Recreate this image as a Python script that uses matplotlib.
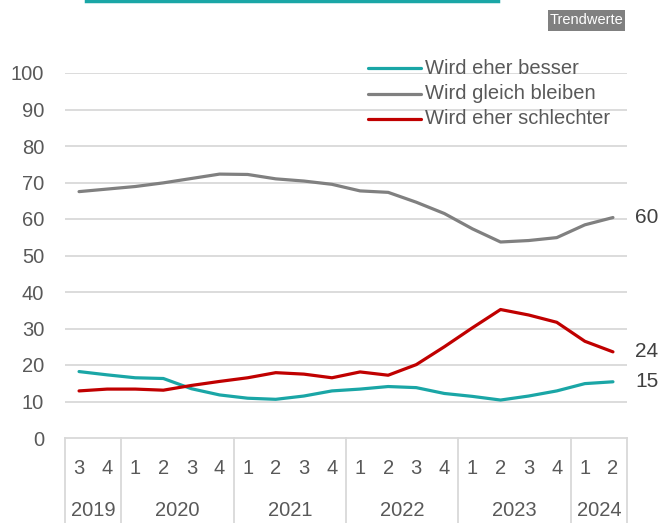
import matplotlib
matplotlib.use("Agg")
import matplotlib.pyplot as plt
from matplotlib import font_manager
from matplotlib.lines import Line2D
from matplotlib.patches import Rectangle

names = {f.name for f in font_manager.fontManager.ttflist}
FAM = ['Liberation Sans Narrow', 'Liberation Sans', 'DejaVu Sans']
FAM = [f for f in FAM if f in names] or ['DejaVu Sans']
plt.rcParams['font.family'] = FAM
NARROW = FAM[0] == 'Liberation Sans Narrow'
FS = 16.5 if NARROW else 14.5

quarters = ['3', '4', '1', '2', '3', '4', '1', '2', '3', '4',
            '1', '2', '3', '4', '1', '2', '3', '4', '1', '2']
years = ['2019', '2020', '2021', '2022', '2023', '2024']
year_counts = [2, 4, 4, 4, 4, 2]

besser = [18.2, 17.3, 16.5, 16.3, 13.5, 11.8, 10.9, 10.6, 11.5, 12.9,
          13.4, 14.1, 13.8, 12.2, 11.4, 10.4, 11.5, 12.9, 14.9, 15.4]
gleich = [67.5, 68.2, 68.9, 69.9, 71.1, 72.3, 72.2, 71.0, 70.4, 69.5,
          67.7, 67.3, 64.6, 61.5, 57.3, 53.7, 54.1, 54.9, 58.4, 60.4]
schlechter = [12.9, 13.4, 13.4, 13.1, 14.4, 15.5, 16.5, 17.9, 17.5, 16.5,
              18.1, 17.2, 20.1, 25.0, 30.2, 35.2, 33.7, 31.7, 26.5, 23.6]
series_labels = ['Wird eher besser', 'Wird gleich bleiben', 'Wird eher schlechter']
end_labels = ['15', '60', '24']
yticks = [0, 10, 20, 30, 40, 50, 60, 70, 80, 90, 100]

C_TEAL = '#1AA6A6'
C_GRAY = '#808080'
C_RED = '#C00000'
TXT = '#595959'
GRID = '#D9D9D9'

W, H = 670, 523
fig = plt.figure(figsize=(W / 100, H / 100), dpi=100)
ax_l, ax_r, ax_t, ax_b = 65, 627, 73, 438
ax = fig.add_axes([ax_l / W, 1 - ax_b / H, (ax_r - ax_l) / W, (ax_b - ax_t) / H])

x = list(range(len(quarters)))
lines = []
for vals, col, lab in zip([besser, gleich, schlechter], [C_TEAL, C_GRAY, C_RED], series_labels):
    ln, = ax.plot(x, vals, color=col, lw=2.3, solid_capstyle='round', solid_joinstyle='round',
                  label=lab, zorder=3)
    lines.append(ln)

ax.set_xlim(-0.5, len(quarters) - 0.5)
ax.set_ylim(0, 100)
ax.set_yticks(yticks)
ax.set_yticklabels([str(v) for v in yticks])
ax.tick_params(axis='y', length=0, pad=15, labelsize=FS, labelcolor=TXT)
ax.tick_params(axis='x', length=0, labelbottom=False)
for y in yticks[1:]:
    ax.axhline(y, color=GRID, lw=1.3, zorder=1)
for s in ['left', 'right', 'top']:
    ax.spines[s].set_visible(False)
ax.spines['bottom'].set_color(GRID)
ax.spines['bottom'].set_linewidth(1.3)

# end labels
for vals, lab in zip([besser, gleich, schlechter], end_labels):
    ax.text(len(quarters) - 0.5 + 0.3, vals[-1], lab, ha='left', va='center',
            fontsize=FS + 0.5, color='#404040')

# category table below axis
h_ax = ax_b - ax_t
y_q = -30 / h_ax
y_y = -73 / h_ax
y_bot = -86 / h_ax
trans = ax.get_xaxis_transform()
for i, q in enumerate(quarters):
    ax.text(i, y_q, q, transform=trans, ha='center', va='center', fontsize=FS, color=TXT)
bounds = [-0.5]
for c in year_counts:
    bounds.append(bounds[-1] + c)
for yr, a, b in zip(years, bounds[:-1], bounds[1:]):
    ax.text((a + b) / 2, y_y, yr, transform=trans, ha='center', va='center', fontsize=FS, color=TXT)
for b in bounds:
    ax.add_line(Line2D([b, b], [0, y_bot], transform=trans, color=GRID, lw=1.3, clip_on=False))

# legend (drawn manually for exact placement)
leg_rows = [68, 93.5, 119]
for ln, lab, yy in zip(lines, series_labels, leg_rows):
    fig.add_artist(Line2D([368 / W, 421 / W], [1 - yy / H, 1 - yy / H], color=ln.get_color(),
                          lw=2.3, solid_capstyle='round'))
    fig.text(425 / W, 1 - yy / H, lab, ha='left', va='center', fontsize=FS, color=TXT)

# decorations
fig.add_artist(Line2D([86 / W, 498 / W], [1 - 1 / H, 1 - 1 / H], color=C_TEAL, lw=2.5))
fig.add_artist(Rectangle((548 / W, 1 - 31 / H), 77 / W, 21 / H, transform=fig.transFigure,
                         facecolor='#808080', edgecolor='none'))
fig.text(586.5 / W, 1 - 20.5 / H, 'Trendwerte', ha='center', va='center',
         fontsize=11 if NARROW else 10.5, color='white')

fig.savefig('out.png', dpi=100)
